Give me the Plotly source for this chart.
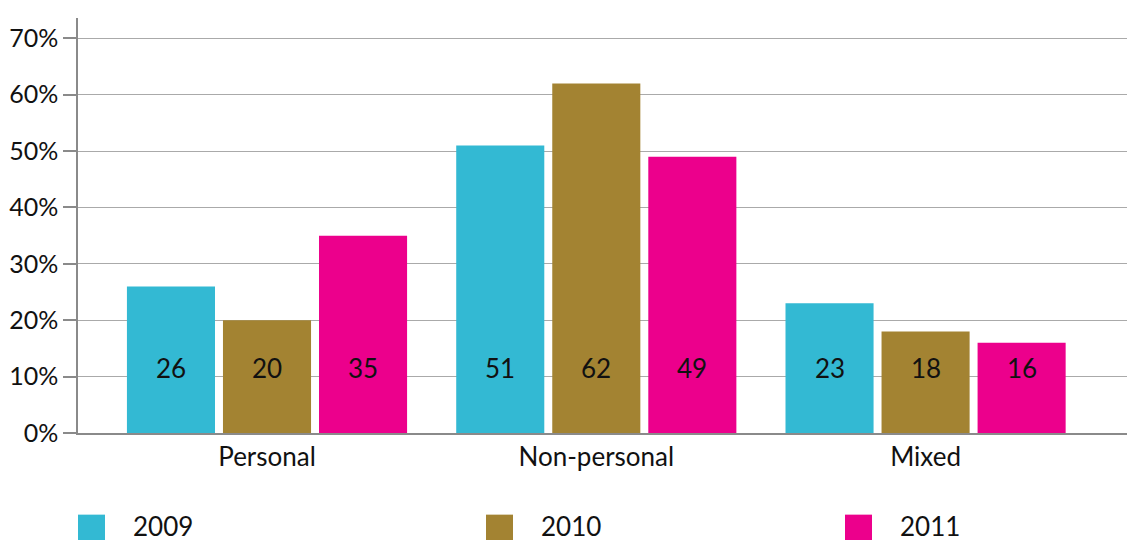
import plotly.graph_objects as go

# data
categories = ["Personal", "Non-personal", "Mixed"]
years = ["2009", "2010", "2011"]
share_2009 = [26, 51, 23]
share_2010 = [20, 62, 18]
share_2011 = [35, 49, 16]
y_ticks = [0, 10, 20, 30, 40, 50, 60, 70]
y_tick_text = [f"{t}%" for t in y_ticks]

COLORS = ["#33B9D3", "#A38332", "#EC008C"]
FONT = "Lato, 'Open Sans', sans-serif"
BAR_GAP = 0.125
GROUP_GAP = 0.083
LABEL_Y = 11.5  # value labels sit at a fixed height inside the bars

# the page body adds an 8px margin, so the figure is drawn 8px smaller
# and the margins are reduced by the same amount
PAGE_OFF = 8
FIG_W, FIG_H = 1135 - PAGE_OFF, 540 - PAGE_OFF

series = [share_2009, share_2010, share_2011]

fig = go.Figure()
for i, (yr, vals) in enumerate(zip(years, series)):
    fig.add_trace(go.Bar(
        x=categories, y=vals, name=yr,
        marker=dict(color=COLORS[i], line=dict(width=0)),
        showlegend=False,
    ))

# value labels, placed at the centre of each bar slot
slot = (1 - BAR_GAP) / len(series)
for i, vals in enumerate(series):
    for c, v in enumerate(vals):
        fig.add_annotation(
            x=c + (i - 1) * slot, y=LABEL_Y, xref="x", yref="y",
            text=str(v), showarrow=False,
            font=dict(size=26, color="#111", family=FONT),
            yanchor="middle",
        )

# legend drawn by hand (big square swatches); positions in page pixels
L, W, T, H = 78, 1057, 18, 415.3
def px_x(px):
    return (px - L) / W
def px_y(py):
    return (T + H - py) / H

legend_x = [78, 486, 845]
for i, yr in enumerate(years):
    x0 = legend_x[i]
    fig.add_shape(
        type="rect", xref="paper", yref="paper",
        x0=px_x(x0), x1=px_x(x0 + 27), y0=px_y(542), y1=px_y(515),
        fillcolor=COLORS[i], line=dict(width=0),
    )
    fig.add_annotation(
        x=px_x(x0 + 53), y=px_y(526), xref="paper", yref="paper",
        text=yr, showarrow=False, xanchor="left", yanchor="middle",
        font=dict(size=26, color="#111", family=FONT),
    )

fig.update_layout(
    width=FIG_W, height=FIG_H,
    margin=dict(l=L - PAGE_OFF, r=0, t=T - PAGE_OFF,
                b=FIG_H - (T - PAGE_OFF) - H, autoexpand=False),
    plot_bgcolor="white", paper_bgcolor="white",
    barmode="group", bargap=BAR_GAP, bargroupgap=GROUP_GAP,
    font=dict(family=FONT, size=26, color="#111"),
)
fig.update_xaxes(
    range=[-0.574, 2.636], automargin=False,
    showline=True, linecolor="#8a8a8a", linewidth=1.5,
    showgrid=False, ticks="",
    tickfont=dict(size=26),
)
fig.update_yaxes(
    range=[0, 73.6], automargin=False,
    tickmode="array", tickvals=y_ticks, ticktext=y_tick_text,
    showline=True, linecolor="#8a8a8a", linewidth=1.5,
    showgrid=True, gridcolor="#aaaaaa", gridwidth=1,
    zeroline=False,
    ticks="outside", ticklen=13, tickcolor="#8a8a8a", tickwidth=1.5,
    tickfont=dict(size=25),
)

fig.write_html("out.html")
